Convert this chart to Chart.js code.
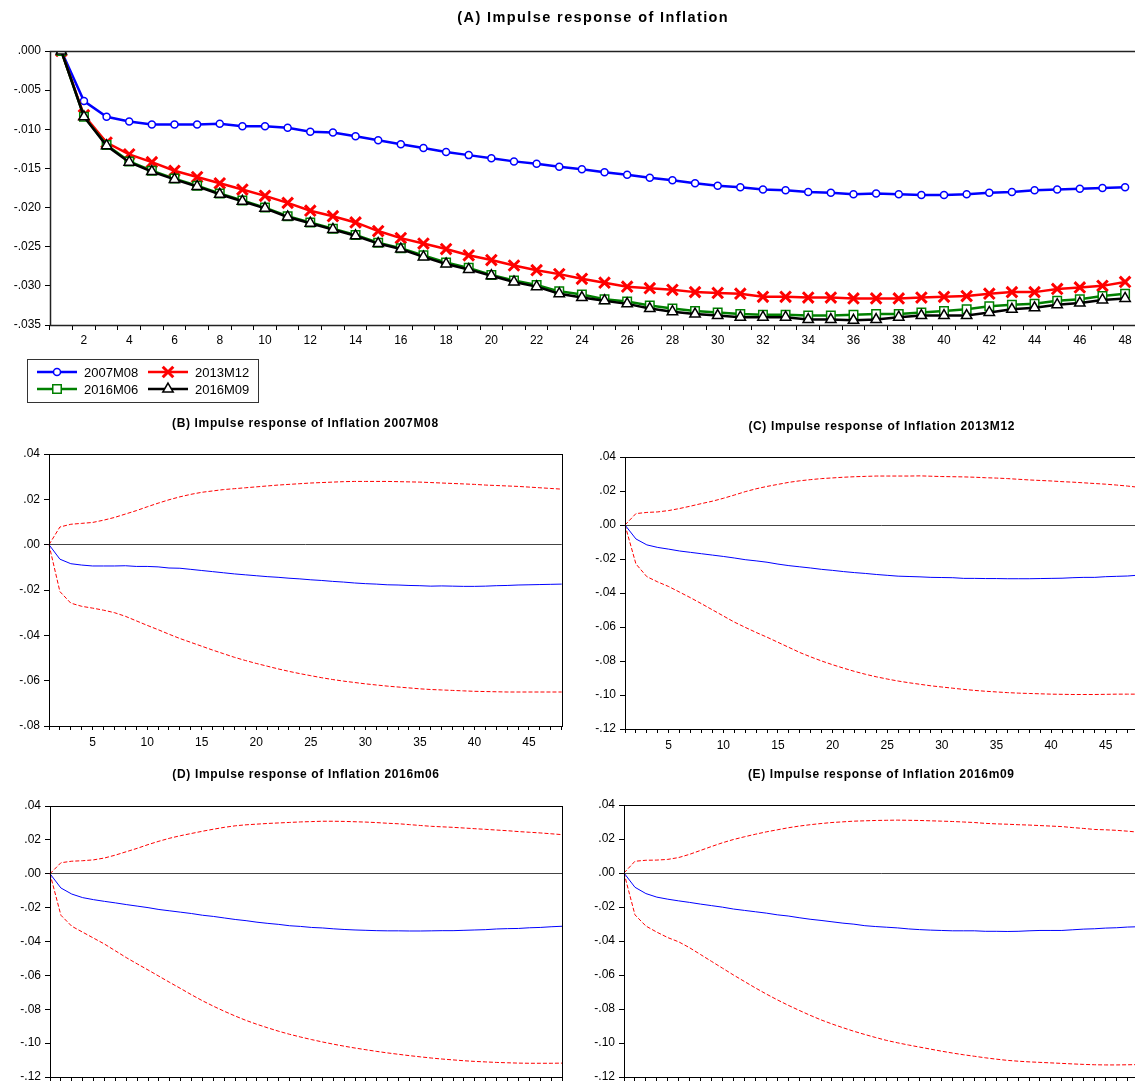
<!DOCTYPE html>
<html>
<head>
<meta charset="utf-8">
<script src="https://cdn.jsdelivr.net/npm/chart.js@4.4.1/dist/chart.umd.min.js"></script>
<style>
  html, body { margin: 0; padding: 0; background: #fff; overflow: hidden; }
  #page { position: relative; width: 1135px; height: 1082px; overflow: hidden; background: #fff; }
  #page canvas { position: absolute; }
</style>
</head>
<body>
<div id="page">
  <canvas id="chartA" width="1140" height="410" style="left:0;top:0"></canvas>
  <canvas id="chartB" width="570" height="340" style="left:0;top:410px"></canvas>
  <canvas id="chartC" width="575" height="340" style="left:570px;top:410px"></canvas>
  <canvas id="chartD" width="570" height="345" style="left:0;top:745px"></canvas>
  <canvas id="chartE" width="575" height="345" style="left:570px;top:745px"></canvas>
</div>
<script>
// horizon 1..48 months
const periods = Array.from({ length: 48 }, (_, i) => String(i + 1));

const seriesNames = ['2007M08', '2013M12', '2016M06', '2016M09'];

// (A) responses, one list per episode
const irf2007m08 = [0, -0.0064, -0.0084, -0.0090, -0.0094, -0.0094, -0.0094, -0.0093, -0.0096, -0.0096,
  -0.0098, -0.0103, -0.0104, -0.0109, -0.0114, -0.0119, -0.0124, -0.0129, -0.0133, -0.0137,
  -0.0141, -0.0144, -0.0148, -0.0151, -0.0155, -0.0158, -0.0162, -0.0165, -0.0169, -0.0172,
  -0.0174, -0.0177, -0.0178, -0.0180, -0.0181, -0.0183, -0.0182, -0.0183, -0.0184, -0.0184,
  -0.0183, -0.0181, -0.0180, -0.0178, -0.0177, -0.0176, -0.0175, -0.0174];
const irf2013m12 = [0, -0.0082, -0.0117, -0.0132, -0.0142, -0.0153, -0.0161, -0.0169, -0.0177, -0.0185,
  -0.0194, -0.0204, -0.0211, -0.0219, -0.0230, -0.0239, -0.0246, -0.0253, -0.0261, -0.0267,
  -0.0274, -0.0280, -0.0285, -0.0291, -0.0296, -0.0301, -0.0303, -0.0305, -0.0308, -0.0309,
  -0.0310, -0.0314, -0.0314, -0.0315, -0.0315, -0.0316, -0.0316, -0.0316, -0.0315, -0.0314,
  -0.0313, -0.0310, -0.0308, -0.0308, -0.0304, -0.0302, -0.0300, -0.0295];
const irf2016m06 = [0, -0.0084, -0.0120, -0.0141, -0.0153, -0.0163, -0.0172, -0.0182, -0.0191, -0.0200,
  -0.0211, -0.0219, -0.0227, -0.0235, -0.0245, -0.0252, -0.0261, -0.0270, -0.0277, -0.0286,
  -0.0293, -0.0299, -0.0307, -0.0311, -0.0317, -0.0320, -0.0325, -0.0329, -0.0332, -0.0334,
  -0.0336, -0.0337, -0.0337, -0.0338, -0.0338, -0.0337, -0.0336, -0.0336, -0.0334, -0.0332,
  -0.0330, -0.0326, -0.0324, -0.0323, -0.0319, -0.0317, -0.0313, -0.0310];
const irf2016m09 = [0, -0.0084, -0.0121, -0.0142, -0.0154, -0.0164, -0.0173, -0.0183, -0.0192, -0.0201,
  -0.0212, -0.0220, -0.0228, -0.0236, -0.0246, -0.0253, -0.0263, -0.0272, -0.0279, -0.0287,
  -0.0295, -0.0301, -0.0310, -0.0315, -0.0319, -0.0323, -0.0329, -0.0333, -0.0336, -0.0338,
  -0.0340, -0.0340, -0.0340, -0.0343, -0.0343, -0.0344, -0.0343, -0.0340, -0.0338, -0.0338,
  -0.0338, -0.0334, -0.0330, -0.0328, -0.0324, -0.0322, -0.0318, -0.0316];

// confidence bands for panels B..E
const upper2007m08 = [0, 0.0078, 0.0090, 0.0094, 0.0098, 0.0108, 0.0120, 0.0135, 0.0150, 0.0167,
  0.0183, 0.0198, 0.0211, 0.0222, 0.0231, 0.0237, 0.0243, 0.0247, 0.0251, 0.0255,
  0.0259, 0.0263, 0.0266, 0.0269, 0.0272, 0.0274, 0.0276, 0.0278, 0.0279, 0.0279,
  0.0279, 0.0279, 0.0278, 0.0277, 0.0276, 0.0274, 0.0272, 0.0270, 0.0268, 0.0266,
  0.0263, 0.0261, 0.0259, 0.0257, 0.0254, 0.0251, 0.0248, 0.0245];
const lower2007m08 = [0, -0.0207, -0.0258, -0.0272, -0.0280, -0.0289, -0.0300, -0.0316, -0.0336, -0.0356,
  -0.0375, -0.0395, -0.0414, -0.0431, -0.0448, -0.0465, -0.0481, -0.0497, -0.0511, -0.0524,
  -0.0536, -0.0548, -0.0559, -0.0569, -0.0578, -0.0587, -0.0595, -0.0602, -0.0608, -0.0614,
  -0.0619, -0.0624, -0.0628, -0.0632, -0.0636, -0.0639, -0.0641, -0.0643, -0.0645, -0.0647,
  -0.0648, -0.0649, -0.0650, -0.0650, -0.0650, -0.0650, -0.0650, -0.0650];
const upper2013m12 = [0, 0.0067, 0.0074, 0.0077, 0.0085, 0.0097, 0.0111, 0.0126, 0.0140, 0.0157,
  0.0176, 0.0196, 0.0213, 0.0227, 0.0239, 0.0251, 0.0260, 0.0267, 0.0273, 0.0277,
  0.0281, 0.0284, 0.0286, 0.0288, 0.0288, 0.0288, 0.0288, 0.0289, 0.0287, 0.0285,
  0.0284, 0.0283, 0.0281, 0.0278, 0.0276, 0.0273, 0.0269, 0.0265, 0.0262, 0.0259,
  0.0255, 0.0252, 0.0248, 0.0244, 0.0240, 0.0235, 0.0229, 0.0222];
const lower2013m12 = [0, -0.0229, -0.0304, -0.0335, -0.0362, -0.0395, -0.0428, -0.0463, -0.0499, -0.0535,
  -0.0571, -0.0602, -0.0632, -0.0660, -0.0690, -0.0720, -0.0750, -0.0776, -0.0800, -0.0822,
  -0.0842, -0.0861, -0.0878, -0.0893, -0.0906, -0.0918, -0.0928, -0.0937, -0.0946, -0.0953,
  -0.0960, -0.0967, -0.0973, -0.0978, -0.0982, -0.0986, -0.0989, -0.0991, -0.0993, -0.0995,
  -0.0996, -0.0997, -0.0997, -0.0997, -0.0996, -0.0995, -0.0995, -0.0995];
const upper2016m06 = [0, 0.0065, 0.0074, 0.0077, 0.0082, 0.0093, 0.0110, 0.0130, 0.0150, 0.0172,
  0.0192, 0.0210, 0.0225, 0.0238, 0.0251, 0.0263, 0.0274, 0.0283, 0.0289, 0.0293,
  0.0297, 0.0300, 0.0303, 0.0306, 0.0308, 0.0310, 0.0310, 0.0309, 0.0307, 0.0305,
  0.0302, 0.0298, 0.0295, 0.0290, 0.0285, 0.0280, 0.0277, 0.0274, 0.0270, 0.0266,
  0.0262, 0.0258, 0.0254, 0.0249, 0.0245, 0.0241, 0.0236, 0.0231];
const lower2016m06 = [0, -0.0245, -0.0310, -0.0345, -0.0380, -0.0415, -0.0455, -0.0495, -0.0532, -0.0568,
  -0.0605, -0.0642, -0.0678, -0.0715, -0.0750, -0.0782, -0.0812, -0.0840, -0.0866, -0.0889,
  -0.0910, -0.0930, -0.0948, -0.0964, -0.0979, -0.0993, -0.1006, -0.1018, -0.1029, -0.1039,
  -0.1049, -0.1058, -0.1066, -0.1074, -0.1081, -0.1088, -0.1094, -0.1099, -0.1104, -0.1108,
  -0.1111, -0.1114, -0.1116, -0.1118, -0.1119, -0.1119, -0.1119, -0.1118];
const upper2016m09 = [0, 0.0069, 0.0075, 0.0076, 0.0080, 0.0091, 0.0110, 0.0133, 0.0156, 0.0178,
  0.0197, 0.0213, 0.0228, 0.0242, 0.0254, 0.0266, 0.0276, 0.0284, 0.0291, 0.0297,
  0.0301, 0.0305, 0.0307, 0.0309, 0.0310, 0.0311, 0.0310, 0.0309, 0.0307, 0.0305,
  0.0303, 0.0300, 0.0297, 0.0292, 0.0289, 0.0287, 0.0284, 0.0282, 0.0279, 0.0276,
  0.0273, 0.0267, 0.0262, 0.0256, 0.0254, 0.0251, 0.0246, 0.0240];
const lower2016m09 = [0, -0.0246, -0.0312, -0.0348, -0.0380, -0.0405, -0.0440, -0.0480, -0.0520, -0.0560,
  -0.0600, -0.0638, -0.0676, -0.0712, -0.0746, -0.0778, -0.0808, -0.0837, -0.0864, -0.0888,
  -0.0910, -0.0931, -0.0950, -0.0968, -0.0985, -0.0999, -0.1012, -0.1024, -0.1036, -0.1048,
  -0.1059, -0.1069, -0.1078, -0.1087, -0.1095, -0.1102, -0.1107, -0.1111, -0.1114, -0.1117,
  -0.1120, -0.1123, -0.1126, -0.1128, -0.1129, -0.1129, -0.1128, -0.1127];

const FONT = '"Liberation Sans", Arial, Helvetica, sans-serif';
Chart.defaults.font.family = FONT;
Chart.defaults.font.size = 12;
Chart.defaults.color = '#000';

// ".005" style labels like EViews
function evLabel(v, digits) {
  if (Math.abs(v) < 1e-9) v = 0;
  const s = Math.abs(v).toFixed(digits).replace(/^0/, '');
  return (v < 0 ? '-' : '') + s;
}

// keep the plot box where we put it (no label overhang padding)
function fixSize(prop, size) {
  return s => {
    s[prop] = size;
    s.paddingLeft = 0; s.paddingRight = 0; s.paddingTop = 0; s.paddingBottom = 0;
  };
}

const spacedTitle = {
  id: 'spacedTitle',
  afterDraw(chart, args, opts) {
    if (!opts.text) return;
    const { ctx, chartArea } = chart;
    ctx.save();
    ctx.font = `bold ${opts.size}px ${FONT}`;
    ctx.fillStyle = '#000';
    ctx.textAlign = 'center';
    ctx.textBaseline = 'middle';
    if ('letterSpacing' in ctx) ctx.letterSpacing = opts.spacing + 'px';
    ctx.fillText(opts.text, (chartArea.left + chartArea.right) / 2, opts.y);
    ctx.restore();
  }
};

const frame = {
  id: 'frame',
  afterDatasetsDraw(chart, args, opts) {
    const { ctx, chartArea } = chart;
    ctx.save();
    ctx.strokeStyle = opts.color || '#000';
    ctx.lineWidth = opts.width || 1;
    const l = Math.round(chartArea.left) + 0.5, t = Math.round(chartArea.top) + 0.5;
    const r = Math.round(chartArea.right) + 0.5, b = Math.round(chartArea.bottom) + 0.5;
    ctx.strokeRect(l, t, r - l, b - t);
    ctx.restore();
  }
};

const boxLegend = {
  id: 'boxLegend',
  afterDraw(chart, args, opts) {
    if (!opts.show) return;
    const { ctx } = chart;
    ctx.save();
    ctx.strokeStyle = '#333';
    ctx.lineWidth = 1;
    ctx.strokeRect(opts.x + 0.5, opts.y + 0.5, opts.w, opts.h);
    ctx.font = `13px ${FONT}`;
    ctx.textBaseline = 'middle';
    chart.data.datasets.forEach((ds, i) => {
      const col = i % 2, row = Math.floor(i / 2);
      const x0 = opts.x + 10 + col * 111;
      const y0 = opts.y + 13 + row * 17;
      ctx.strokeStyle = ds.borderColor;
      ctx.lineWidth = ds.borderWidth;
      ctx.beginPath();
      ctx.moveTo(x0, y0);
      ctx.lineTo(x0 + 40, y0);
      ctx.stroke();
      ctx.fillStyle = ds.pointBackgroundColor;
      ctx.strokeStyle = ds.pointBorderColor;
      ctx.lineWidth = ds.pointBorderWidth;
      Chart.helpers.drawPoint(ctx, {
        pointStyle: ds.pointStyle, radius: ds.pointRadius,
        borderWidth: ds.pointBorderWidth, rotation: 0
      }, x0 + 20, y0);
      ctx.fillStyle = '#000';
      ctx.fillText(ds.label, x0 + 47, y0 + 1);
    });
    ctx.restore();
  }
};

Chart.register(spacedTitle, frame, boxLegend);

function yAxis(min, max, step, digits, width) {
  return {
    min, max,
    border: { display: false },
    grid: {
      drawTicks: true, tickLength: 5, tickColor: '#000',
      color: c => (c.tick && Math.abs(c.tick.value) < 1e-9) ? '#444' : 'rgba(0,0,0,0)',
      lineWidth: 1
    },
    ticks: { stepSize: step, padding: 4, font: { size: 12 }, callback: v => evLabel(v, digits) },
    afterFit: fixSize('width', width)
  };
}

// ---- (A) all four episodes
const markerStyles = [
  { color: '#0000ff', style: 'circle', radius: 3.5, fill: '#fff', width: 1.5 },
  { color: '#ff0000', style: 'crossRot', radius: 7.5, fill: '#ff0000', width: 3 },
  { color: '#008000', style: 'rect', radius: 6, fill: '#fff', width: 1.5 },
  { color: '#000000', style: 'triangle', radius: 6, fill: '#fff', width: 1.5 }
];
const irfSeries = [irf2007m08, irf2013m12, irf2016m06, irf2016m09];

new Chart(document.getElementById('chartA'), {
  type: 'line',
  data: {
    labels: periods,
    datasets: irfSeries.map((values, i) => ({
      label: seriesNames[i],
      data: values,
      borderColor: markerStyles[i].color,
      borderWidth: 2.5,
      tension: 0,
      pointStyle: markerStyles[i].style,
      pointRadius: markerStyles[i].radius,
      pointBackgroundColor: markerStyles[i].fill,
      pointBorderColor: markerStyles[i].color,
      pointBorderWidth: markerStyles[i].width,
      order: 4 - i
    }))
  },
  options: {
    responsive: false,
    animation: false,
    events: [],
    layout: { autoPadding: false, padding: { top: 51, left: 0, right: 3.6, bottom: 60 } },
    scales: {
      x: {
        offset: true,
        border: { display: false },
        grid: { offset: true, drawOnChartArea: false, tickLength: 5, tickColor: '#000' },
        ticks: {
          autoSkip: false, maxRotation: 0, minRotation: 0, padding: 3, font: { size: 12 },
          callback: (v, idx) => ((idx + 1) % 2 === 0 ? String(idx + 1) : '')
        },
        afterFit: fixSize('height', 25)
      },
      y: yAxis(-0.035, 0, 0.005, 3, 50)
    },
    plugins: {
      legend: { display: false },
      tooltip: { enabled: false },
      spacedTitle: { text: '(A) Impulse response of Inflation', size: 14.5, spacing: 1.4, y: 18 },
      frame: { width: 1.5, color: '#222' },
      boxLegend: { show: true, x: 27, y: 359, w: 231, h: 43 }
    }
  }
});

// ---- (B)..(E) single episode with bands
function irfPanel(id, title, center, upper, lower, yMin, geo) {
  const band = (data) => ({
    data, borderColor: '#ff0000', borderWidth: 1, borderDash: [4, 2],
    pointRadius: 0, tension: 0
  });
  return new Chart(document.getElementById(id), {
    type: 'line',
    data: {
      labels: periods,
      datasets: [
        { data: center, borderColor: '#0000ff', borderWidth: 1, pointRadius: 0, tension: 0 },
        band(upper),
        band(lower)
      ]
    },
    options: {
      responsive: false,
      animation: false,
      events: [],
      layout: { autoPadding: false, padding: { top: geo.top, left: 0, right: geo.right, bottom: 0 } },
      scales: {
        x: {
          offset: false,
          border: { display: false },
          grid: { drawOnChartArea: false, tickLength: 4, tickColor: '#000' },
          ticks: {
            autoSkip: false, maxRotation: 0, minRotation: 0, padding: 5, font: { size: 12 },
            callback: (v, idx) => ((idx + 1) % 5 === 0 ? String(idx + 1) : '')
          },
          afterFit: fixSize('height', geo.xh)
        },
        y: yAxis(yMin, 0.04, 0.02, 2, geo.yw)
      },
      plugins: {
        legend: { display: false },
        tooltip: { enabled: false },
        spacedTitle: { text: title, size: 12, spacing: 0.65, y: geo.ty },
        frame: { width: 1, color: '#000' },
        boxLegend: { show: false }
      }
    }
  });
}

irfPanel('chartB', '(B) Impulse response of Inflation 2007M08', irf2007m08, upper2007m08, lower2007m08, -0.08,
  { top: 44, right: 8.3, xh: 24, yw: 49, ty: 14 });
irfPanel('chartC', '(C) Impulse response of Inflation 2013M12', irf2013m12, upper2013m12, lower2013m12, -0.12,
  { top: 47, right: 6.5, xh: 21, yw: 55, ty: 17 });
irfPanel('chartD', '(D) Impulse response of Inflation 2016m06', irf2016m06, upper2016m06, lower2016m06, -0.12,
  { top: 61, right: 8, xh: 13, yw: 50, ty: 30 });
irfPanel('chartE', '(E) Impulse response of Inflation 2016m09', irf2016m09, upper2016m09, lower2016m09, -0.12,
  { top: 60, right: 6.5, xh: 13, yw: 54, ty: 30 });
</script>
</body>
</html>
